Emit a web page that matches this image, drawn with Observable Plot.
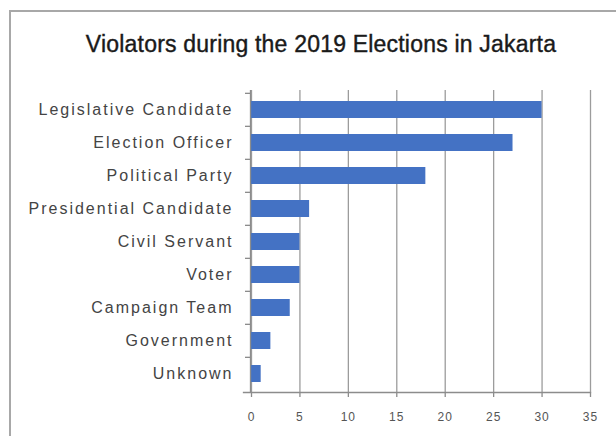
<!DOCTYPE html>
<html>
<head>
<meta charset="utf-8">
<script src="https://cdn.jsdelivr.net/npm/d3@7"></script>
<script src="https://cdn.jsdelivr.net/npm/@observablehq/plot@0.6"></script>
<style>
  html, body { margin: 0; padding: 0; background: #fff; }
  #wrap { position: relative; width: 616px; height: 436px; overflow: hidden; }
  #border { position: absolute; left: 9px; top: 10px; width: 640px; height: 460px; border: 2px solid #a8a8a8; box-sizing: border-box; }
  #title { position: absolute; left: 0; width: 642px; top: 31px; text-align: center; font-family: "Liberation Sans", Arial, sans-serif; font-size: 23px; color: #1a1a1a; letter-spacing: 0.2px; -webkit-text-stroke: 0.4px #1a1a1a; white-space: nowrap; }
  #chart { position: absolute; left: 0; top: 0; }
  #chart svg g[aria-label="y-axis tick label"] text { letter-spacing: 2px; }
  #chart svg g[aria-label="x-axis tick label"] text { letter-spacing: 1px; }
</style>
</head>
<body>
<div id="wrap">
  <div id="border"></div>
  <div id="title">Violators during the 2019 Elections in Jakarta</div>
  <div id="chart"></div>
</div>
<script>
const categories = ["Legislative Candidate", "Election Officer", "Political Party", "Presidential Candidate", "Civil Servant", "Voter", "Campaign Team", "Government", "Unknown"];
const counts = [30, 27, 18, 6, 5, 5, 4, 2, 1];
const xTicks = [0, 5, 10, 15, 20, 25, 30, 35];

const data = categories.map((c, i) => ({category: c, count: counts[i]}));

const plot = Plot.plot({
  width: 616,
  height: 436,
  marginTop: 90,
  marginBottom: 44,
  marginLeft: 251,
  marginRight: 26,
  style: {fontFamily: "Liberation Sans, Arial, sans-serif", background: "transparent", overflow: "visible"},
  x: {domain: [0, 35], ticks: xTicks},
  y: {domain: categories, paddingInner: 0.5, paddingOuter: 0.25},
  marks: [
    Plot.gridX(xTicks, {stroke: "#9c9c9c", strokeOpacity: 1, strokeWidth: 1.3}),
    Plot.barX(data, {x: "count", y: "category", fill: "#4472C4"}),
    Plot.ruleX([0], {stroke: "#8c8c8c", strokeWidth: 1.3, dx: -1}),
    Plot.axisY({tickSize: 5, dy: -16.67, dx: -1, text: null, label: null, stroke: "#8c8c8c", strokeWidth: 1.3}),
    Plot.axisY({tickSize: 0, tickPadding: 18, fontSize: 16, fill: "#444", label: null}),
    Plot.frame({anchor: "bottom", insetLeft: -8, stroke: "#8c8c8c", strokeWidth: 1.3}),
    Plot.axisX(xTicks, {tickSize: 5, tickPadding: 15, fontSize: 12, fill: "#555", stroke: "#8c8c8c", strokeWidth: 1.3, label: null})
  ]
});
document.getElementById("chart").appendChild(plot);
</script>
</body>
</html>
